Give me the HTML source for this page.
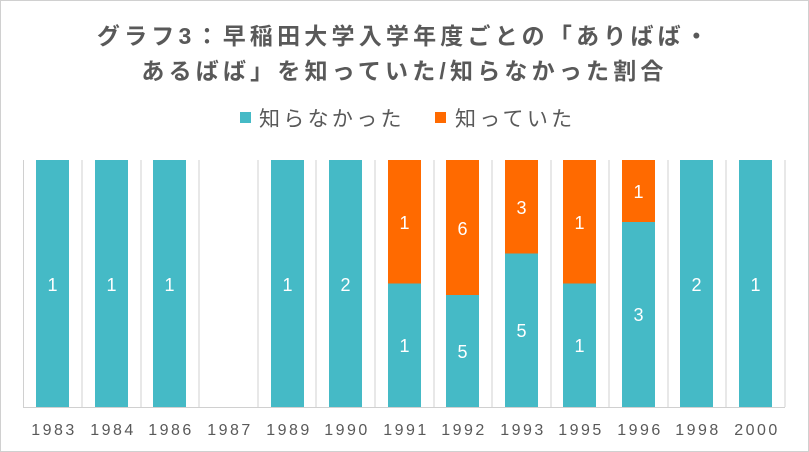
<!DOCTYPE html>
<html><head><meta charset="utf-8"><style>
html,body{margin:0;padding:0;background:#fff;}
svg{display:block;font-family:"Liberation Sans","Noto Sans CJK JP",sans-serif;}
</style></head><body>
<svg width="809" height="452" viewBox="0 0 809 452">
<rect x="0.5" y="0.5" width="808" height="451" fill="#fff" stroke="#d0d0d0"/>
<text x="404.5" y="44" text-anchor="middle" font-size="23" font-weight="bold" fill="#595959" letter-spacing="4.2">グラフ3：早稲田大学入学年度ごとの「ありばば・</text>
<text x="404.5" y="79" text-anchor="middle" font-size="23" font-weight="bold" fill="#595959" letter-spacing="4.2">あるばば」を知っていた/知らなかった割合</text>
<rect x="240" y="112" width="11" height="11" fill="#45BAC6"/>
<text x="259" y="126" font-size="21" fill="#595959" letter-spacing="3.3">知らなかった</text>
<rect x="435" y="112" width="11" height="11" fill="#FF6A00"/>
<text x="455" y="126" font-size="21" fill="#595959" letter-spacing="3.3">知っていた</text>
<g stroke="#d0d0d0" stroke-width="1">
<line x1="23.5" y1="160" x2="23.5" y2="407"/><line x1="82" y1="160" x2="82" y2="407"/><line x1="141" y1="160" x2="141" y2="407"/><line x1="199" y1="160" x2="199" y2="407"/><line x1="258" y1="160" x2="258" y2="407"/><line x1="316" y1="160" x2="316" y2="407"/><line x1="375" y1="160" x2="375" y2="407"/><line x1="434" y1="160" x2="434" y2="407"/><line x1="492" y1="160" x2="492" y2="407"/><line x1="551" y1="160" x2="551" y2="407"/><line x1="609" y1="160" x2="609" y2="407"/><line x1="668" y1="160" x2="668" y2="407"/><line x1="726" y1="160" x2="726" y2="407"/><line x1="785" y1="160" x2="785" y2="407"/>
<line x1="23" y1="407.5" x2="785" y2="407.5"/>
</g>
<g fill="#45BAC6">
<rect x="36" y="160" width="33" height="247"/>
<rect x="95" y="160" width="33" height="247"/>
<rect x="153" y="160" width="33" height="247"/>
<rect x="271" y="160" width="33" height="247"/>
<rect x="329" y="160" width="33" height="247"/>
<rect x="388" y="283.5" width="33" height="123.5"/>
<rect x="446" y="295" width="33" height="112"/>
<rect x="505" y="253.5" width="33" height="153.5"/>
<rect x="563" y="283.5" width="33" height="123.5"/>
<rect x="622" y="222" width="33" height="185"/>
<rect x="680" y="160" width="33" height="247"/>
<rect x="739" y="160" width="33" height="247"/>
</g>
<g fill="#FF6A00">
<rect x="388" y="160" width="33" height="123.5"/>
<rect x="446" y="160" width="33" height="135"/>
<rect x="505" y="160" width="33" height="93.5"/>
<rect x="563" y="160" width="33" height="123.5"/>
<rect x="622" y="160" width="33" height="62"/>
</g>
<g fill="#fff" font-size="18" text-anchor="middle">
<text x="52.5" y="291">1</text><text x="111.5" y="291">1</text><text x="169.5" y="291">1</text><text x="287.5" y="291">1</text><text x="345.5" y="291">2</text>
<text x="404.5" y="352">1</text><text x="404.5" y="229">1</text>
<text x="462.5" y="358">5</text><text x="462.5" y="235">6</text>
<text x="521.5" y="337">5</text><text x="521.5" y="214">3</text>
<text x="579.5" y="352">1</text><text x="579.5" y="229">1</text>
<text x="638.5" y="321">3</text><text x="638.5" y="198">1</text>
<text x="696.5" y="291">2</text><text x="755.5" y="291">1</text>
</g>
<g fill="#595959" font-size="16" text-anchor="middle" letter-spacing="2.5">
<text x="54" y="435">1983</text><text x="113" y="435">1984</text><text x="171" y="435">1986</text><text x="230" y="435">1987</text><text x="289" y="435">1989</text><text x="347" y="435">1990</text><text x="406" y="435">1991</text><text x="464" y="435">1992</text><text x="523" y="435">1993</text><text x="581" y="435">1995</text><text x="640" y="435">1996</text><text x="698" y="435">1998</text><text x="757" y="435">2000</text>
</g>
</svg>
</body></html>
